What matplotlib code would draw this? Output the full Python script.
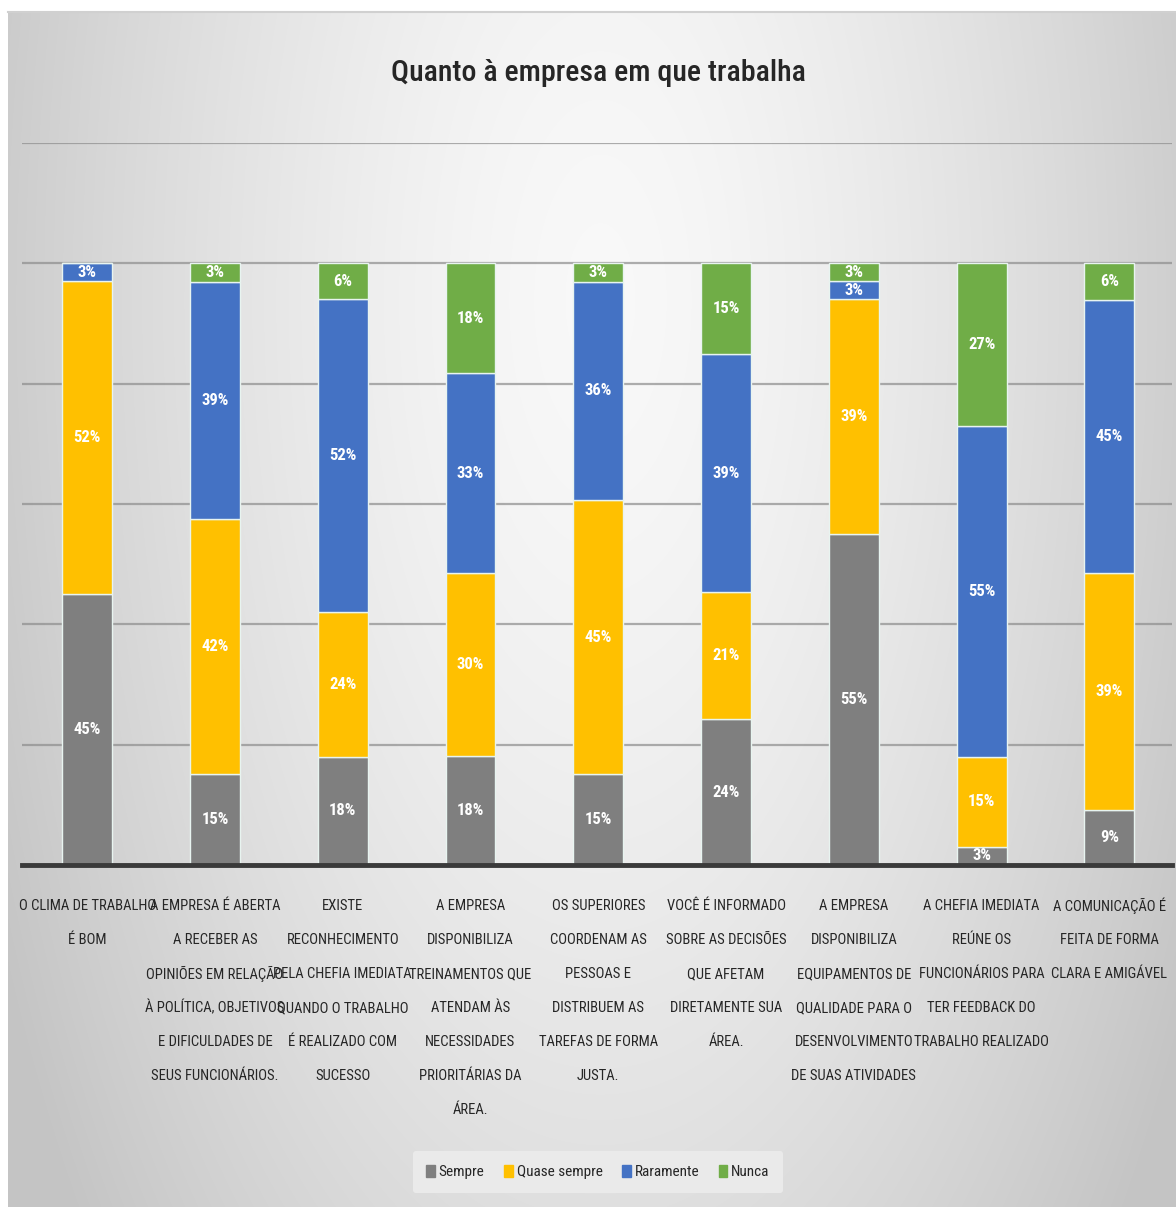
import numpy as np
import matplotlib
matplotlib.use("Agg")
import matplotlib.pyplot as plt
from matplotlib import font_manager
from matplotlib.patches import Rectangle
from matplotlib.transforms import blended_transform_factory

# ---- data -------------------------------------------------------------
categories = [
    "O CLIMA DE TRABALHO\nÉ BOM",
    "A EMPRESA É ABERTA\nA RECEBER AS\nOPINIÕES EM RELAÇÃO\nÀ POLÍTICA, OBJETIVOS\nE DIFICULDADES DE\nSEUS FUNCIONÁRIOS.",
    "EXISTE\nRECONHECIMENTO\nPELA CHEFIA IMEDIATA\nQUANDO O TRABALHO\nÉ REALIZADO COM\nSUCESSO",
    "A EMPRESA\nDISPONIBILIZA\nTREINAMENTOS QUE\nATENDAM ÀS\nNECESSIDADES\nPRIORITÁRIAS DA\nÁREA.",
    "OS SUPERIORES\nCOORDENAM AS\nPESSOAS E\nDISTRIBUEM AS\nTAREFAS DE FORMA\nJUSTA.",
    "VOCÊ É INFORMADO\nSOBRE AS DECISÕES\nQUE AFETAM\nDIRETAMENTE SUA\nÁREA.",
    "A EMPRESA\nDISPONIBILIZA\nEQUIPAMENTOS DE\nQUALIDADE PARA O\nDESENVOLVIMENTO\nDE SUAS ATIVIDADES",
    "A CHEFIA IMEDIATA\nREÚNE OS\nFUNCIONÁRIOS PARA\nTER FEEDBACK DO\nTRABALHO REALIZADO",
    "A COMUNICAÇÃO É\nFEITA DE FORMA\nCLARA E AMIGÁVEL",
]
series_names = ["Sempre", "Quase sempre", "Raramente", "Nunca"]
sempre       = [45, 15, 18, 18, 15, 24, 55, 3, 9]
quase_sempre = [52, 42, 24, 30, 45, 21, 39, 15, 39]
raramente    = [3, 39, 52, 33, 36, 39, 3, 55, 45]
nunca        = [0, 3, 6, 18, 3, 15, 3, 27, 6]
colors = ["#7f7f7f", "#ffc000", "#4472c4", "#70ad47"]

title = "Quanto à empresa em que trabalha"

# ---- fonts ------------------------------------------------------------
available = {f.name for f in font_manager.fontManager.ttflist}
narrow = None
for cand in ["Roboto Condensed", "Liberation Sans Narrow", "DejaVu Sans Condensed", "Open Sans Condensed"]:
    if cand in available:
        narrow = cand
        break
fam = [narrow, "DejaVu Sans"] if narrow else ["DejaVu Sans"]
plt.rcParams["font.family"] = fam

W, H = 1176, 1207
fig = plt.figure(figsize=(W / 100, H / 100), dpi=100)
fig.patch.set_facecolor("white")

# ---- background panel with soft radial shading -------------------------
bg = fig.add_axes([0, 0, 1, 1], zorder=0)
yy, xx = np.mgrid[0:H, 0:W]
d = np.sqrt(((xx - 600) / 680.0) ** 2 + ((yy - 300) / 1500.0) ** 2)
shade = np.clip(0.975 - 0.21 * d ** 1.5, 0.77, 0.975)
img = np.dstack([shade, shade, shade])
img[:12, :, :] = 1.0
img[:, :8, :] = 1.0
bg.imshow(img, extent=[0, W, H, 0], aspect="auto", interpolation="bilinear")
bg.plot([8, W], [12, 12], color="#d0d0d0", lw=1.5)
bg.set_xlim(0, W)
bg.set_ylim(H, 0)
bg.axis("off")

# ---- chart axes -------------------------------------------------------
left_px, right_px, bottom_px, top_px = 22, 1172, 865, 143
ax = fig.add_axes([left_px / W, 1 - bottom_px / H, (right_px - left_px) / W,
                   (bottom_px - top_px) / H], zorder=1)
ax.set_facecolor("none")

series = [sempre, quase_sempre, raramente, nunca]
totals = np.sum(np.array(series, dtype=float), axis=0)
x = np.arange(len(categories))
bottoms = np.zeros(len(categories))
bw = 0.39
for vals, name, col in zip(series, series_names, colors):
    vals = np.array(vals, dtype=float)
    heights = vals / totals * 100.0
    ax.bar(x, heights, bw, bottom=bottoms, color=col, label=name,
           edgecolor="#e8f4f0", linewidth=1.0, zorder=3)
    for xi, b, h, v in zip(x, bottoms, heights, vals):
        if v > 0:
            ax.text(xi, b + h / 2, f"{int(v)}%", ha="center", va="center",
                    color="white", fontsize=12, fontweight="bold", zorder=4)
    bottoms += heights

ax.set_xlim(-0.51, 8.49)
ax.set_ylim(0, 120)
ax.set_yticks(np.arange(0, 121, 20))
ax.yaxis.grid(True, color="#8c8c8c", linewidth=1.6, alpha=0.7, zorder=0)
ax.tick_params(axis="y", left=False, labelleft=False)
ax.tick_params(axis="x", bottom=False, labelbottom=False)
for s in ["top", "right", "left"]:
    ax.spines[s].set_visible(False)
ax.spines["bottom"].set_color("#3a3a3a")
ax.spines["bottom"].set_linewidth(3.5)
ax.spines["bottom"].set_zorder(5)

# category labels below the axis, one line at a time on a fixed pitch
trans = blended_transform_factory(ax.transData, fig.transFigure)
first_line_px, pitch_px = 906, 34
for xi, lab in zip(x, categories):
    for k, line in enumerate(lab.split("\n")):
        ypx = first_line_px + k * pitch_px
        ax.text(xi, 1 - ypx / H, line, transform=trans, ha="center",
                va="center", fontsize=10.5, color="#262626", clip_on=False)

fig.text(598 / W, 1 - 73 / H, title, ha="center", va="center",
         fontsize=21.5, fontweight="medium", color="#262626")

# legend
handles = [Rectangle((0, 0), 1, 1, color=c) for c in colors]
leg = fig.legend(handles, series_names, loc="center", ncol=4,
                 bbox_to_anchor=(598 / W, 1 - 1172 / H), frameon=True,
                 fontsize=11, handlelength=0.55, handleheight=0.8,
                 handletextpad=0.25, columnspacing=1.3, borderpad=0.9)
leg.get_frame().set_facecolor("#ececec")
leg.get_frame().set_edgecolor("none")
leg.get_frame().set_alpha(0.9)
for t in leg.get_texts():
    t.set_color("#262626")

fig.savefig("out.png", dpi=100)
